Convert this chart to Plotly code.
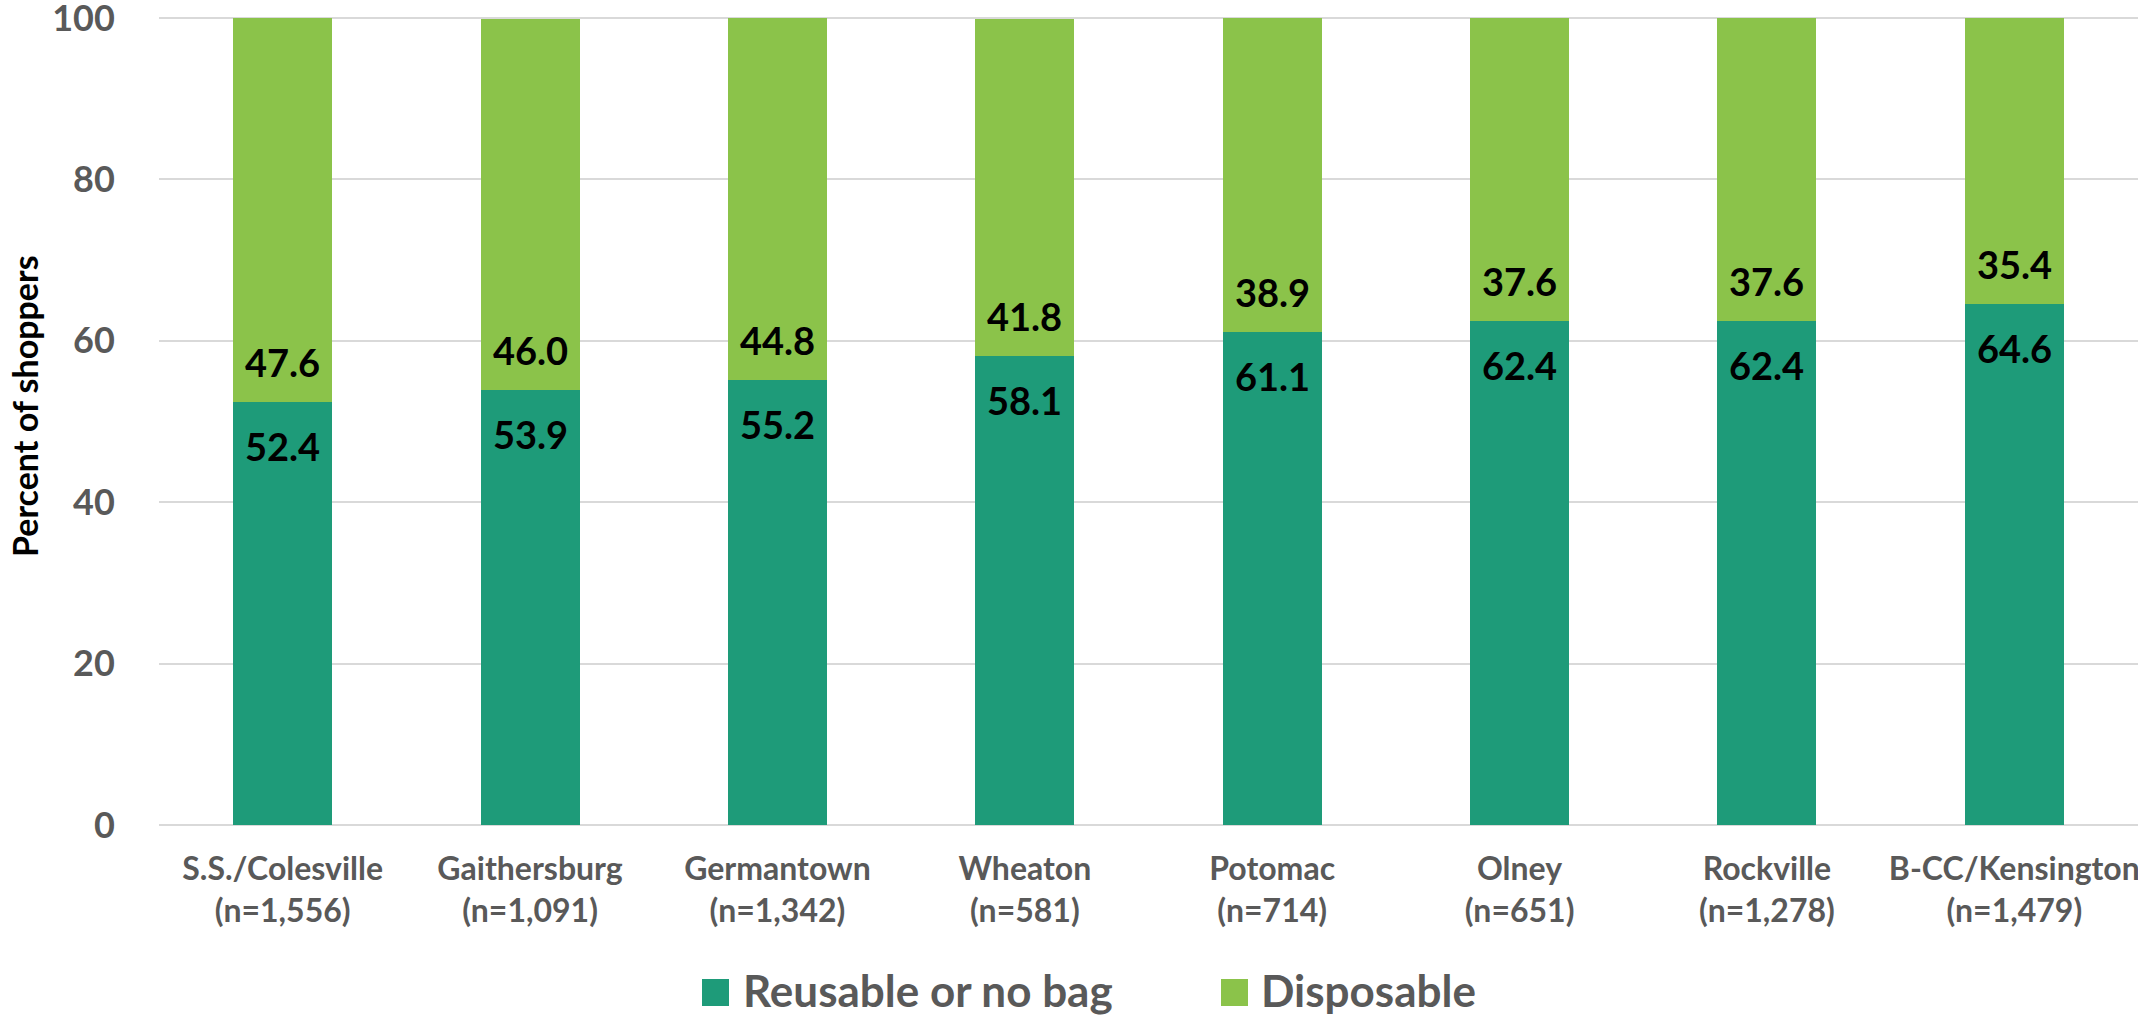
import plotly.graph_objects as go

regions = ["S.S./Colesville", "Gaithersburg", "Germantown", "Wheaton", "Potomac", "Olney", "Rockville", "B-CC/Kensington"]
sample_sizes = ["1,556", "1,091", "1,342", "581", "714", "651", "1,278", "1,479"]
reusable = [52.4, 53.9, 55.2, 58.1, 61.1, 62.4, 62.4, 64.6]
disposable = [47.6, 46.0, 44.8, 41.8, 38.9, 37.6, 37.6, 35.4]
series_names = ["Reusable or no bag", "Disposable"]
colors = ["#1E9B79", "#8BC34A"]
y_ticks = [0, 20, 40, 60, 80, 100]

labels = [f"{r}<br>(n={n})" for r, n in zip(regions, sample_sizes)]

W, H = 2138, 1017
L, R, T, B = 159, 0, 10, 192
pw, ph = W - L - R, H - T - B
y_max = 101

def px_x(p):
    return (p - L) / pw

def px_y(p):
    return (H - B - p) / ph

FONT = "Lato"
fig = go.Figure()
fig.add_trace(go.Bar(x=labels, y=reusable, name=series_names[0], marker=dict(color=colors[0], line=dict(width=0))))
fig.add_trace(go.Bar(x=labels, y=disposable, name=series_names[1], marker=dict(color=colors[1], line=dict(width=0))))

ann = []
for lab, r, d in zip(labels, reusable, disposable):
    ann.append(dict(x=lab, y=r, xref="x", yref="y", text=f"{r:.1f}", showarrow=False,
                    yanchor="top", yshift=-19, font=dict(family=FONT, size=38, color="black", weight="bold")))
    ann.append(dict(x=lab, y=r, xref="x", yref="y", text=f"{d:.1f}", showarrow=False,
                    yanchor="bottom", yshift=15, font=dict(family=FONT, size=38, color="black", weight="bold")))

# y-axis title
ann.append(dict(x=px_x(24), y=px_y(406), xref="paper", yref="paper", text="Percent of shoppers",
                textangle=-90, showarrow=False, xanchor="center", yanchor="middle",
                font=dict(family=FONT, size=34, color="black", weight="bold")))

# custom legend
legend_pos = [(702, 741), (1221, 1259)]
shapes = []
for (mx, tx), name, c in zip(legend_pos, series_names, colors):
    shapes.append(dict(type="rect", xref="paper", yref="paper", x0=px_x(mx), x1=px_x(mx + 27),
                       y0=px_y(1006), y1=px_y(979), fillcolor=c, line=dict(width=0)))
    ann.append(dict(x=px_x(tx), y=px_y(990), xref="paper", yref="paper", text=name, showarrow=False,
                    xanchor="left", yanchor="middle", font=dict(family=FONT, size=44, color="#595959", weight="bold")))

fig.update_layout(
    width=W, height=H, autosize=False,
    margin=dict(l=L, r=R, t=T, b=B),
    barmode="stack", bargap=0.6,
    plot_bgcolor="white", paper_bgcolor="white",
    showlegend=False,
    annotations=ann, shapes=shapes,
    font=dict(family=FONT),
)
fig.update_yaxes(range=[0, y_max], tickvals=y_ticks, gridcolor="#D9D9D9", gridwidth=2,
                 zeroline=True, zerolinecolor="#D9D9D9", zerolinewidth=2, showline=False,
                 tickfont=dict(family=FONT, size=36, color="#595959", weight="bold"),
                 ticks="outside", ticklen=36, tickcolor="rgba(0,0,0,0)",
                 ticklabeloverflow="allow", automargin=False)
fig.update_xaxes(tickfont=dict(family=FONT, size=32, color="#595959", weight="bold"),
                 showline=False, ticklabelstandoff=22, automargin=False)

fig.write_html("out.html", config={"displayModeBar": False},
               post_script="document.body.style.margin='0';document.body.style.overflow='hidden';")
